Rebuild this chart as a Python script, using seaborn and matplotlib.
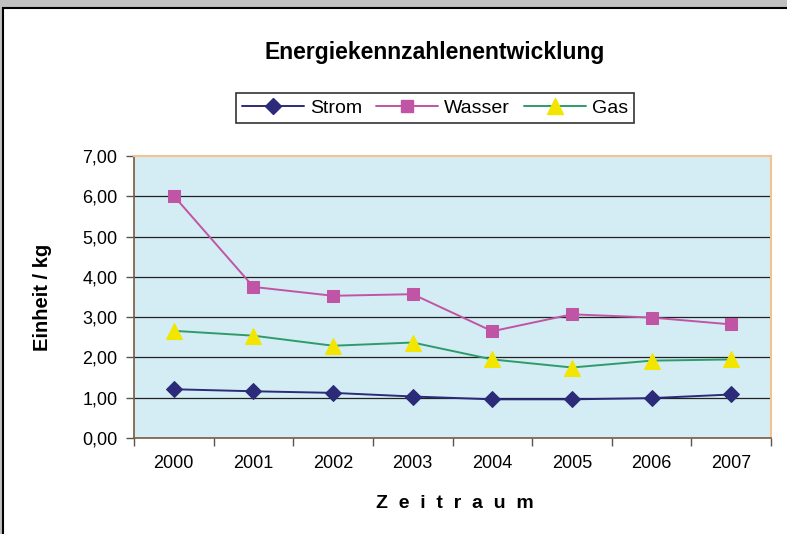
import numpy as np
import pandas as pd
import matplotlib
matplotlib.use("Agg")
import matplotlib.pyplot as plt
from matplotlib.patches import Rectangle
from matplotlib.lines import Line2D
from matplotlib.ticker import FuncFormatter
import seaborn as sns

# values
years = ["2000", "2001", "2002", "2003", "2004", "2005", "2006", "2007"]
strom = [1.21, 1.16, 1.12, 1.03, 0.96, 0.96, 0.99, 1.08]
wasser = [6.01, 3.75, 3.53, 3.57, 2.65, 3.07, 2.99, 2.82]
gas = [2.66, 2.54, 2.29, 2.37, 1.95, 1.75, 1.92, 1.95]

df = pd.DataFrame({"Jahr": years, "Strom": strom, "Wasser": wasser, "Gas": gas})

sns.set_style("white")
plt.rcParams["font.family"] = ["Liberation Sans", "DejaVu Sans"]
plt.rcParams["text.color"] = "black"
plt.rcParams["axes.labelcolor"] = "black"
plt.rcParams["xtick.color"] = "black"
plt.rcParams["ytick.color"] = "black"

fig = plt.figure(figsize=(7.87, 5.34), dpi=100)
fig.patch.set_facecolor("#c0c0c0")
# white chart area with black frame (cut off right/bottom like the screenshot)
fig.patches.append(Rectangle((3 / 787, -0.1), 1.2, 1 - 8 / 534 + 0.1,
                             transform=fig.transFigure, facecolor="white",
                             edgecolor="black", linewidth=1.5, zorder=-5))

ax = fig.add_axes([134 / 787, 1 - 438 / 534, 637 / 787, 282 / 534])
ax.set_facecolor("#d4ecf3")

styles = {
    "Strom": dict(color="#2b2b7a", marker="D", markersize=8,
                  markerfacecolor="#2b2b7a", markeredgecolor="#2b2b7a"),
    "Wasser": dict(color="#c055a5", marker="s", markersize=9,
                   markerfacecolor="#c055a5", markeredgecolor="#c055a5"),
    "Gas": dict(color="#2e9c6a", marker="^", markersize=11,
                markerfacecolor="#f2e600", markeredgecolor="#f2e600"),
}
for name, st in styles.items():
    sns.lineplot(data=df, x="Jahr", y=name, ax=ax, linewidth=1.4,
                 sort=False, zorder=3, **st)

ax.set_xlim(-0.5, len(years) - 0.5)
ax.set_ylim(0, 7)
ax.set_yticks(np.arange(0, 8, 1))
ax.yaxis.set_major_formatter(FuncFormatter(lambda v, p: f"{v:.2f}".replace(".", ",")))
ax.set_xticks(np.arange(-0.5, len(years), 1))
ax.set_xticklabels([])
ax.set_xticks(np.arange(len(years)), minor=True)
ax.set_xticklabels(years, minor=True)
ax.tick_params(axis="x", which="major", bottom=True, direction="out", length=6,
               width=1, color="#555555")
ax.tick_params(axis="x", which="minor", bottom=True, length=0, pad=12, labelsize=13)
ax.tick_params(axis="y", left=True, direction="out", length=6, width=1,
               color="#555555", labelsize=13, pad=6)

for y in range(1, 7):
    ax.axhline(y, color="#222222", linewidth=0.9, zorder=1)

for s in ["left", "bottom"]:
    ax.spines[s].set_color("#7a5a3c")
    ax.spines[s].set_linewidth(1.2)
for s in ["top", "right"]:
    ax.spines[s].set_color("#f5c28e")
    ax.spines[s].set_linewidth(1.5)

ax.set_xlabel("")
ax.set_ylabel("Einheit / kg", fontsize=14.5, fontweight="bold", labelpad=22)
fig.text(455 / 787, 1 - 503 / 534, "Z  e  i  t  r  a  u  m", ha="center", va="center",
         fontsize=14, fontweight="bold")
fig.text(435 / 787, 1 - 53 / 534, "Energiekennzahlenentwicklung", ha="center",
         va="center", fontsize=16.5, fontweight="bold")

handles = [Line2D([0], [0], linewidth=1.4, **st) for st in styles.values()]
leg = fig.legend(handles, list(styles.keys()), loc="center",
                 bbox_to_anchor=(435 / 787, 1 - 108 / 534), ncol=3,
                 fontsize=14, frameon=True, fancybox=False, handlelength=3.2,
                 handletextpad=0.3, columnspacing=0.7, borderpad=0.3)
leg.get_frame().set_edgecolor("black")
leg.get_frame().set_linewidth(1.2)

fig.savefig("out.png", dpi=100, facecolor=fig.get_facecolor())
